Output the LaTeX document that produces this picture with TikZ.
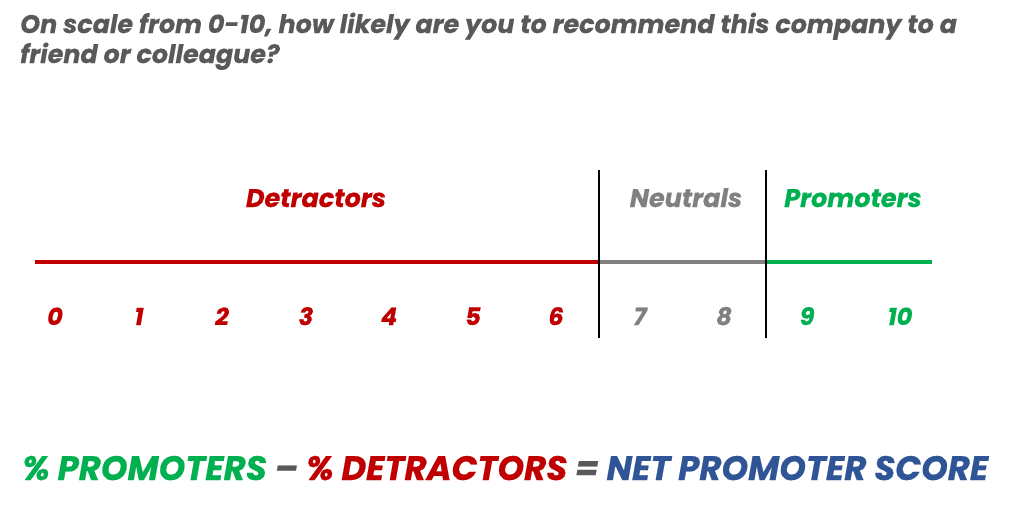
\documentclass[tikz,border=0pt]{standalone}
\usepackage{fontspec}
\setmainfont{Poppins}
\newfontfamily\pop{Poppins}[BoldItalicFeatures={FakeBold=0.6}]
\definecolor{detred}{HTML}{C00000}
\definecolor{neugray}{HTML}{808080}
\definecolor{progreen}{HTML}{00B050}
\definecolor{npsblue}{HTML}{2F5597}
\definecolor{titlegray}{HTML}{595959}
\tikzset{
  txt/.style={inner sep=0pt, font=\pop\bfseries\itshape},
  num/.style={txt, font=\pop\bfseries\itshape\fontsize{24}{28}\selectfont, anchor=base},
  grp/.style={txt, font=\pop\bfseries\itshape\fontsize{25.5}{28}\selectfont, anchor=base},
  ttl/.style={txt, anchor=base west, text=titlegray, font=\pop\bfseries\itshape\fontsize{25.4}{30}\selectfont},
  seg/.style={line width=4pt},
  divider/.style={line width=1.5pt, black}
}
\begin{document}
\begin{tikzpicture}[x=1pt,y=-1pt]
\useasboundingbox (0,0) rectangle (1014,512);
% title
\node[ttl] (title) at (20,33)
  {On scale from 0-10, how likely are you to recommend this company to a};
\node[ttl] (title2) at (20,63)
  {friend or colleague?};
% scale line
\coordinate (s0) at (35,262);
\coordinate (s1) at (599,262);
\coordinate (s2) at (766,262);
\coordinate (s3) at (932,262);
\draw[seg, detred] (s0) -- (s1);
\draw[seg, neugray] (s1) -- (s2);
\draw[seg, progreen] (s2) -- (s3);
% dividers
\coordinate (d1t) at (599,170);
\coordinate (d1b) at (599,338);
\coordinate (d2t) at (766,170);
\coordinate (d2b) at (766,338);
\draw[divider] (d1t) -- (d1b);
\draw[divider] (d2t) -- (d2b);
% group labels
\node[grp, text=detred] (det) at (316,207) {Detractors};
\node[grp, text=neugray] (neu) at (686,207) {Neutrals};
\node[grp, text=progreen] (pro) at (853,207) {Promoters};
% numbers
\node[num, text=detred] (n0) at (55,325) {0};
\node[num, text=detred] (n1) at (139,325) {1};
\node[num, text=detred] (n2) at (222,325) {2};
\node[num, text=detred] (n3) at (306,325) {3};
\node[num, text=detred] (n4) at (389,325) {4};
\node[num, text=detred] (n5) at (473,325) {5};
\node[num, text=detred] (n6) at (556,325) {6};
\node[num, text=neugray] (n7) at (640,325) {7};
\node[num, text=neugray] (n8) at (724,325) {8};
\node[num, text=progreen] (n9) at (807,325) {9};
\node[num, text=progreen] (n10) at (900,325) {10};
% formula
\node[txt, anchor=base west, font=\pop\bfseries\itshape\fontsize{33.9}{38}\selectfont] (formula) at (22,480)
  {\textcolor{progreen}{\% PROMOTERS} \textcolor{titlegray}{–} \textcolor{detred}{\% DETRACTORS} \textcolor{titlegray}{=} \textcolor{npsblue}{NET PROMOTER SCORE}};
\end{tikzpicture}
\end{document}
